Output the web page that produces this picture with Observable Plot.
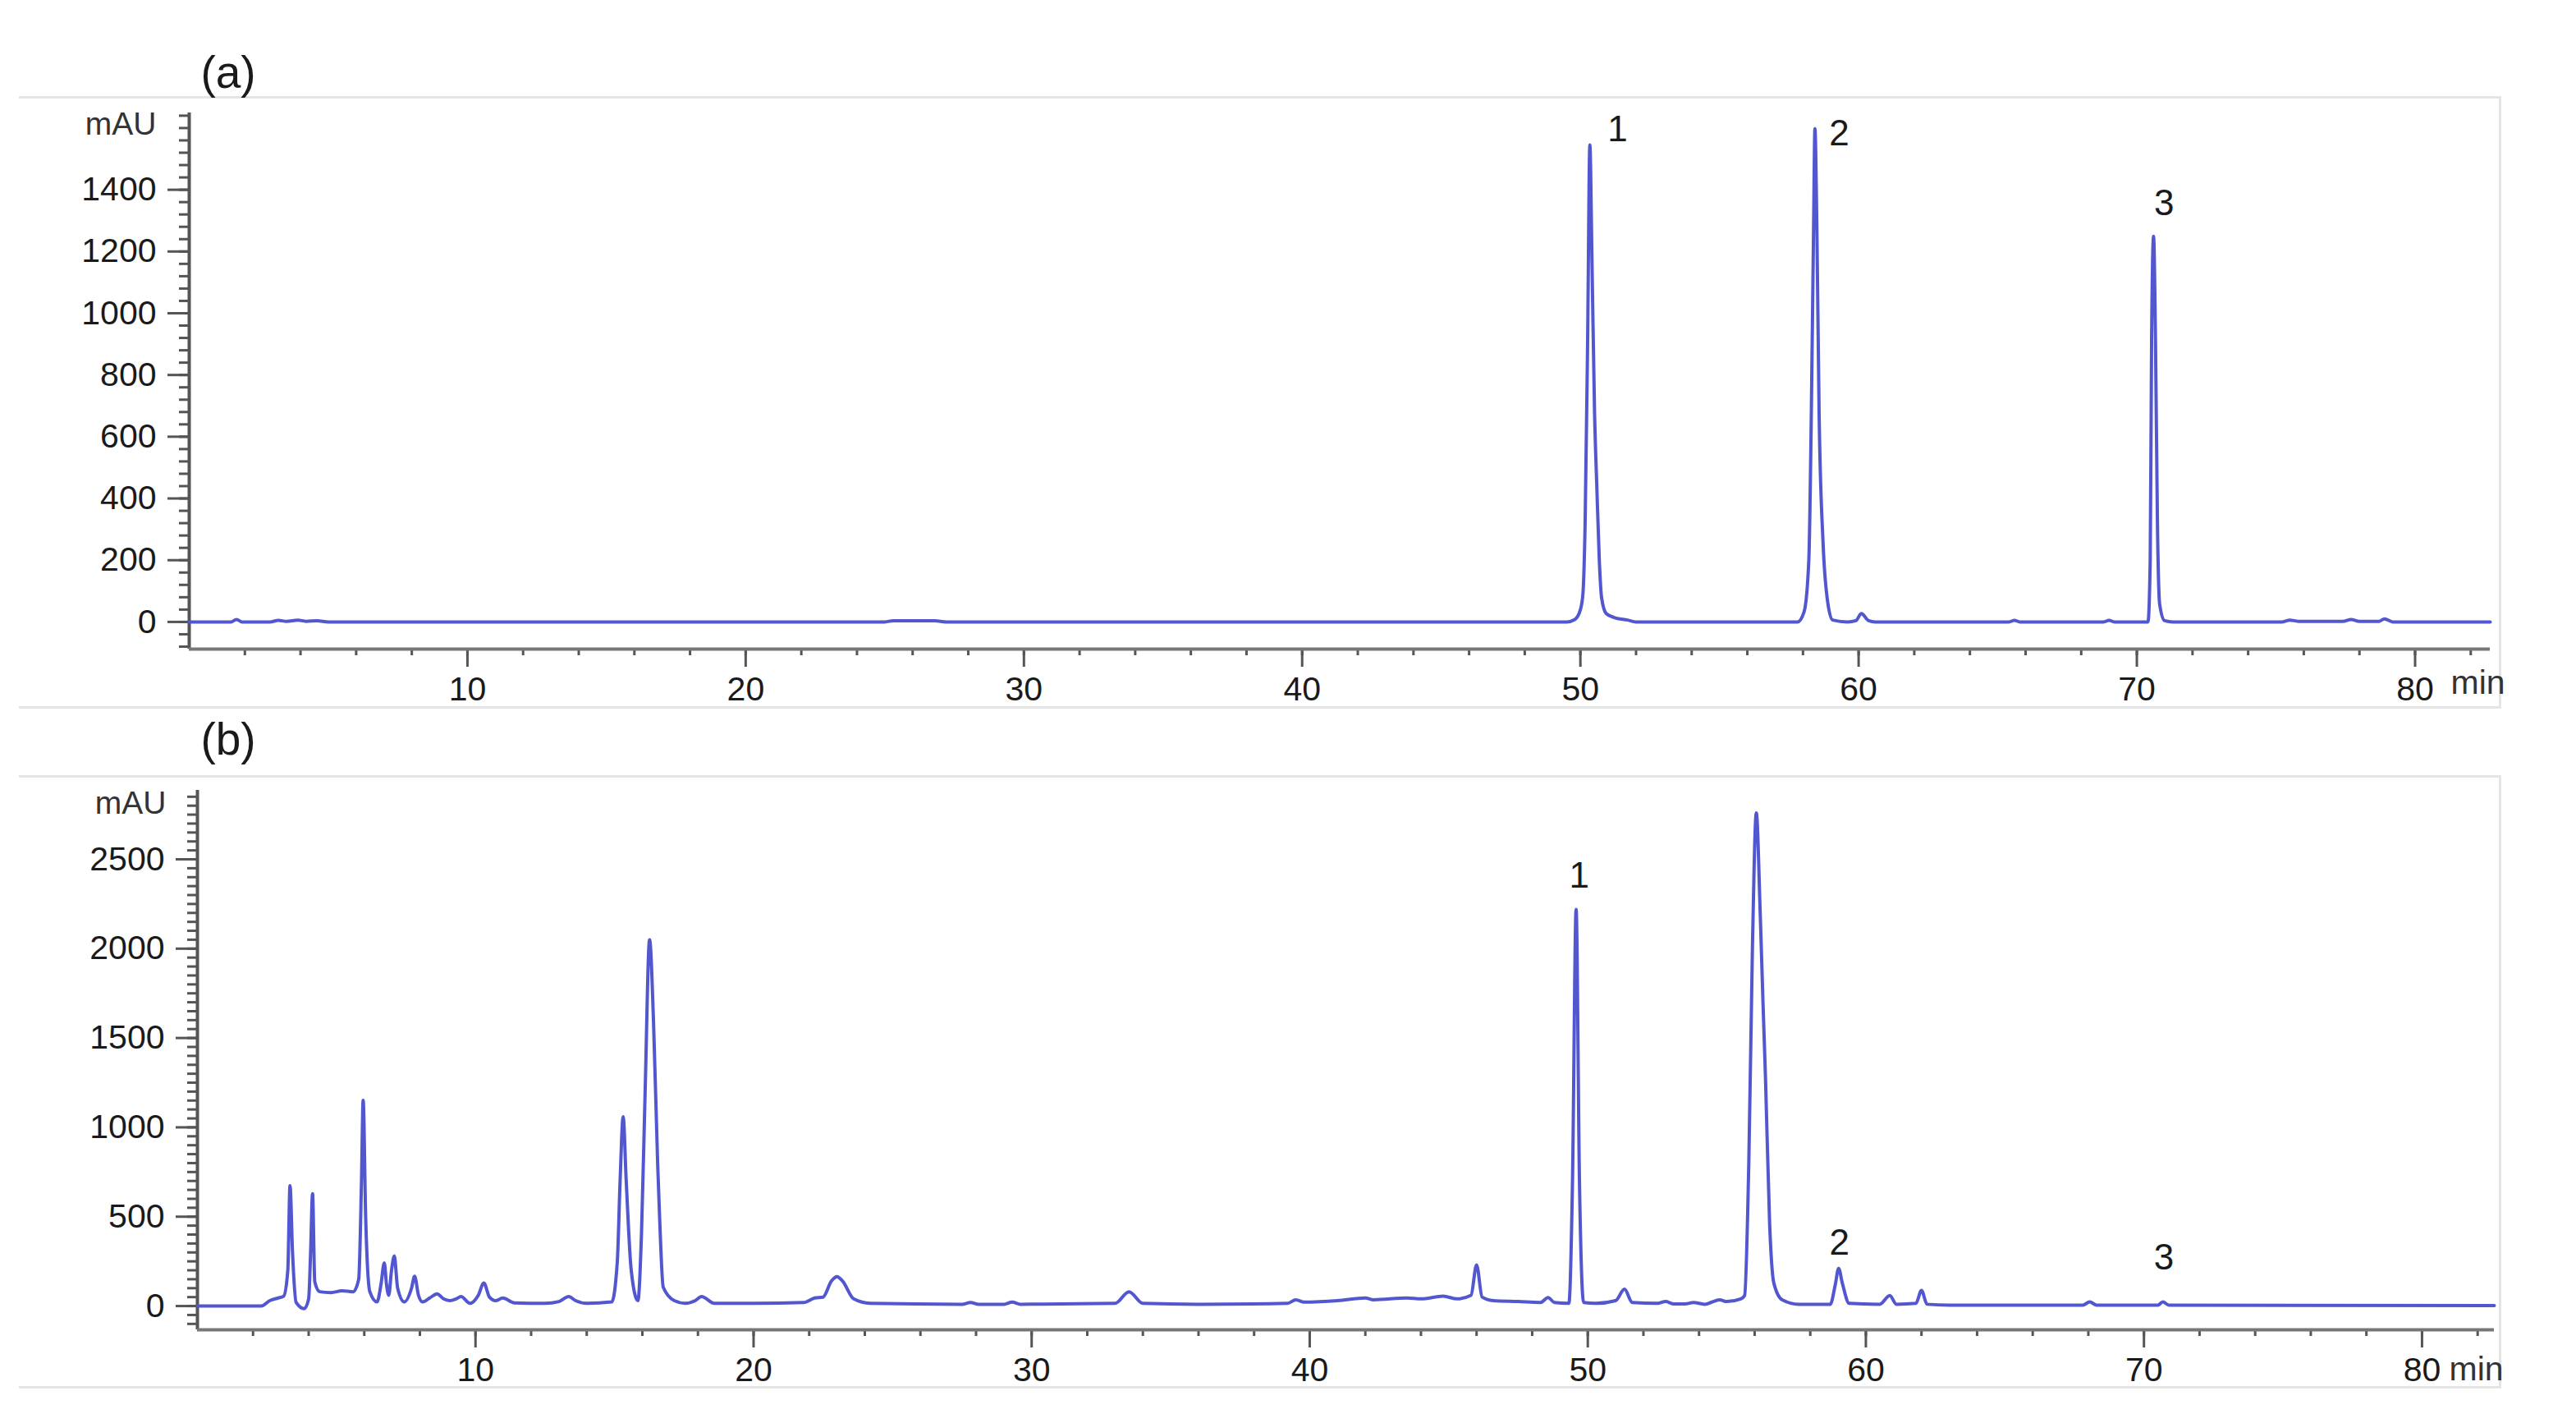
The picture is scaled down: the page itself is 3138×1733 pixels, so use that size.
<!DOCTYPE html>
<html><head><meta charset="utf-8">
<script src="https://cdn.jsdelivr.net/npm/d3@7"></script>
<script src="https://cdn.jsdelivr.net/npm/@observablehq/plot@0.6"></script>
<style>
body{margin:0;background:#fff;width:3138px;height:1733px;position:relative;overflow:hidden;font-family:"Liberation Sans",Arial,sans-serif}
.frame{position:absolute;border-top:3px solid #e4e4e4;border-right:3px solid #e4e4e4;border-bottom:3px solid #e4e4e4;box-sizing:border-box}
.plabel{position:absolute;font-size:55px;color:#1a1a1a;transform:translate(-50%,-50%);line-height:1}
.panel{position:absolute;left:0}
</style></head><body>
<div class="frame" style="left:23px;top:117px;width:3024px;height:746px"></div>
<div class="frame" style="left:23px;top:944px;width:3024px;height:747px"></div>
<div class="plabel" style="left:278px;top:88px">(a)</div>
<div class="plabel" style="left:278px;top:900px">(b)</div>
<div id="pa" class="panel" style="top:118px"></div>
<div id="pb" class="panel" style="top:945px"></div>
<script>
// ---------- data ----------
// Panel (a): standard mixture, [time (min), signal (mAU)]
const traceA = [
  [0,0],[1.5,0],[1.7,8],[1.9,0],[2.9,0],[3.2,5],[3.5,2],[3.9,6],[4.2,2],[4.6,4],[5.0,0],
  [25.0,0],[25.3,4],[26.8,4],[27.2,0],
  [49.5,0],[49.8,8],[50.0,40],[50.09,90],[50.17,320],[50.26,910],[50.34,1545],[50.42,1150],[50.51,675],[50.59,440],[50.68,200],[50.76,80],[50.93,27],[51.2,15],[51.7,6],[52.0,0],
  [57.8,0],[58.04,33],[58.21,200],[58.30,675],[58.38,1270],[58.43,1598],[58.50,1270],[58.58,675],[58.72,260],[58.90,57],[59.07,6],[59.6,0],[59.9,4],[60.1,27],[60.36,4],[60.6,0],
  [65.4,0],[65.6,5],[65.8,0],[68.8,0],[69.0,5],[69.2,0],
  [70.40,0],[70.48,200],[70.53,912],[70.60,1249],[70.67,912],[70.74,318],[70.82,57],[71.0,4],[71.3,0],
  [75.2,0],[75.5,6],[75.8,2],[77.4,2],[77.7,8],[78.0,2],[78.7,2],[78.9,10],[79.2,0],[82.7,0]
];
// Panel (b): sample extract
const traceB = [
  [0,0],[2.3,0],[2.6,30],[2.9,45],[3.1,55],[3.25,200],[3.33,674],[3.42,300],[3.55,20],[3.84,-15],[4.0,40],[4.07,300],[4.14,629],[4.22,136],[4.4,80],[4.8,75],[5.2,85],[5.6,80],[5.8,150],[5.9,700],[5.96,1151],[6.05,500],[6.2,80],[6.46,23],[6.6,120],[6.72,242],[6.8,120],[6.88,60],[6.98,200],[7.08,280],[7.2,100],[7.44,23],[7.7,100],[7.81,167],[7.95,60],[8.1,23],[8.35,45],[8.62,68],[8.85,40],[9.08,30],[9.3,40],[9.48,53],[9.8,15],[10.1,60],[10.3,129],[10.5,50],[10.72,30],[10.98,45],[11.4,18],[12.5,15],[13.0,25],[13.35,53],[13.6,30],[14.0,15],[14.9,23],
  [15.1,250],[15.2,700],[15.31,1060],[15.42,700],[15.6,200],[15.84,30],[15.97,409],[16.1,1200],[16.26,2050],[16.4,1600],[16.55,800],[16.62,500],[16.75,106],[17.15,30],[17.54,15],[17.9,30],[18.13,53],[18.59,15],
  [20,15],[21.8,20],[22.2,45],[22.5,50],[22.8,140],[23.0,165],[23.2,140],[23.6,40],[24.2,15],[27.5,10],[27.8,20],[28.1,10],[29.0,10],[29.3,22],[29.6,10],[33.0,15],[33.5,80],[34.0,15],[36,10],[39.2,15],[39.5,35],[39.8,22],[41,30],[42,45],[42.3,35],[43.5,45],[44,40],[44.8,55],[45.3,40],[45.8,60],[46.0,230],[46.2,50],[46.6,30],[47.5,25],[48.3,20],[48.57,47],[48.8,20],
  [49.32,15],[49.45,700],[49.58,2220],[49.7,700],[49.85,20],[50.3,15],[51.0,30],[51.32,94],[51.6,20],[52.5,15],[52.8,25],[53.1,12],[53.5,12],[53.8,20],[54.2,10],[54.74,35],[55.0,25],[55.5,40],[55.64,59],[55.79,800],[55.92,2000],[56.06,2760],[56.2,2200],[56.3,1700],[56.39,1278],[56.54,457],[56.69,129],[56.99,35],[57.6,10],
  [58.72,10],[58.9,120],[59.02,211],[59.15,130],[59.4,15],[60.5,10],[60.86,59],[61.1,10],[61.8,15],[62.0,87],[62.2,10],[63,5],[67.8,5],[68.05,23],[68.3,5],[70.5,5],[70.68,23],[70.9,5],[82.6,3]
];
// peak labels
const peakLabelsA = [{t: 51.34, v: 1596, label: "1"}, {t: 59.3, v: 1582, label: "2"}, {t: 70.98, v: 1356, label: "3"}];
const peakLabelsB = [{t: 49.69, v: 2408, label: "1"}, {t: 59.05, v: 354, label: "2"}, {t: 70.72, v: 271, label: "3"}];
// axes
const xMajorTicks = [10, 20, 30, 40, 50, 60, 70, 80];
const xMinorTicks = d3.range(2, 83, 2);
const yMajorTicksA = [0, 200, 400, 600, 800, 1000, 1200, 1400];
const yMinorTicksA = d3.range(-80, 1660, 40);
const yMajorTicksB = [0, 500, 1000, 1500, 2000, 2500];
const yMinorTicksB = d3.range(-100, 2890, 50);
const xDomainA = [0, 82.7], yDomainA = [-88, 1649];
const xDomainB = [0, 82.6], yDomainB = [-133, 2886];
const yUnit = ["mAU"], xUnit = ["min"];

// ---------- drawing ----------
const FONT = "'Liberation Sans', Arial, sans-serif";
const LINE = "#5257cf", AXIS = "#555", TXT = "#1a1a1a";
const plain = d => String(d);

function panel({trace, labels, xDomain, yDomain, yMajor, yMinor, height, margins, unitOffsets}) {
  return Plot.plot({
    width: 3138, height,
    ...margins,
    x: {domain: xDomain},
    y: {domain: yDomain},
    style: {background: "transparent", fontFamily: FONT, color: TXT, overflow: "visible"},
    marks: [
      Plot.axisY(yMinor, {tickSize: 12, tickFormat: () => "", stroke: AXIS, strokeWidth: 3, label: null}),
      Plot.axisY(yMajor, {tickSize: 26, tickPadding: 14, tickFormat: plain, stroke: AXIS, strokeWidth: 3, fill: TXT, fontSize: 41, label: null}),
      Plot.axisX(xMinorTicks, {tickSize: 8, tickFormat: () => "", stroke: AXIS, strokeWidth: 3, label: null}),
      Plot.axisX(xMajorTicks, {tickSize: 22, tickPadding: 11, tickFormat: plain, stroke: AXIS, strokeWidth: 3, fill: TXT, fontSize: 41, label: null}),
      Plot.ruleX([xDomain[0]], {stroke: AXIS, strokeWidth: 4}),
      Plot.ruleY([yDomain[0]], {stroke: "#777", strokeWidth: 4}),
      Plot.line(trace, {x: d => d[0], y: d => d[1], stroke: LINE, strokeWidth: 4, curve: "monotone-x"}),
      Plot.text(labels, {x: "t", y: "v", text: "label", fontSize: 44, fill: TXT}),
      Plot.text(yUnit, {frameAnchor: "top-left", dx: unitOffsets.ydx, dy: unitOffsets.ydy, textAnchor: "end", lineAnchor: "middle", fontSize: 39, fill: "#333"}),
      Plot.text(xUnit, {frameAnchor: "bottom-right", dx: unitOffsets.xdx, dy: unitOffsets.xdy, textAnchor: "start", lineAnchor: "middle", fontSize: 41, fill: "#333"})
    ]
  });
}

document.getElementById("pa").append(panel({
  trace: traceA, labels: peakLabelsA, xDomain: xDomainA, yDomain: yDomainA,
  yMajor: yMajorTicksA, yMinor: yMinorTicksA, height: 742,
  margins: {marginLeft: 230, marginRight: 105, marginTop: 19, marginBottom: 70},
  unitOffsets: {ydx: -40, ydy: 14, xdx: -48, xdy: 41}
}));
document.getElementById("pb").append(panel({
  trace: traceB, labels: peakLabelsB, xDomain: xDomainB, yDomain: yDomainB,
  yMajor: yMajorTicksB, yMinor: yMinorTicksB, height: 743,
  margins: {marginLeft: 240, marginRight: 100, marginTop: 17, marginBottom: 69},
  unitOffsets: {ydx: -38, ydy: 16, xdx: -55, xdy: 48}
}));
</script>
</body></html>
